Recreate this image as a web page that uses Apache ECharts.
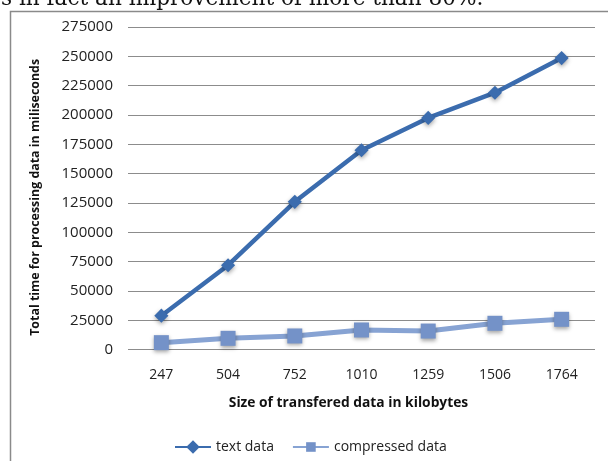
<!DOCTYPE html>
<html>
<head>
<meta charset="utf-8">
<script src="https://cdn.jsdelivr.net/npm/echarts@6/dist/echarts.min.js"></script>
<style>html,body{margin:0;padding:0;background:#fff;}#c{width:608px;height:461px;}</style>
</head>
<body>
<div id="c"></div>
<script>
var categories = ['247', '504', '752', '1010', '1259', '1506', '1764'];
var textData = [29000, 72000, 126000, 170000, 197500, 219000, 248500];
var compressedData = [6000, 9700, 11700, 16800, 15900, 22500, 25900];
var seriesNames = ['text data', 'compressed data'];
var xTitle = 'Size of transfered data in kilobytes';
var yTitle = 'Total time for processing data in miliseconds';
var topText = 's in fact an improvement of more than 80%.';

var chart = echarts.init(document.getElementById('c'));
var font = '"Open Sans", sans-serif';
chart.setOption({
  animation: false,
  backgroundColor: '#fff',
  graphic: [
    { type: 'rect', left: 8, top: 9, shape: { width: 700, height: 500 }, style: { fill: 'none', stroke: '#8a8a8a', lineWidth: 1.5 }, silent: true },
    { type: 'text', silent: true, style: { x: 1, y: 10, verticalAlign: 'bottom', text: topText, font: '21.6px "DejaVu Serif", serif', fill: '#111' } }
  ],
  grid: { left: 128, right: 13, top: 27, bottom: 111.3 },
  legend: {
    data: seriesNames, left: 169, top: 435, itemWidth: 36, itemHeight: 12, itemGap: 18,
    textStyle: { fontFamily: font, fontSize: 14, color: '#222' }
  },
  xAxis: {
    type: 'category', data: categories, boundaryGap: true,
    axisLine: { show: false }, axisTick: { show: false },
    axisLabel: { fontFamily: font, fontSize: 14, color: '#222', margin: 18 },
    name: xTitle, nameLocation: 'middle', nameGap: 46,
    nameTextStyle: { fontFamily: font, fontSize: 13.8, fontWeight: 'bold', color: '#111', padding: [0, 26, 0, 0] }
  },
  yAxis: {
    type: 'value', min: 0, max: 275000, interval: 25000,
    axisLine: { show: false }, axisTick: { show: false },
    splitLine: { lineStyle: { color: '#8c8c8c', width: 1 } },
    axisLabel: { fontFamily: font, fontSize: 15, color: '#222', margin: 15, formatter: function (v) { return String(v); } },
    name: yTitle, nameLocation: 'middle', nameGap: 87, nameRotate: 90,
    nameTextStyle: { fontFamily: font, fontSize: 12.4, fontWeight: 'bold', color: '#111', padding: [0, 18, 0, 0] }
  },
  series: [
    {
      name: seriesNames[0], type: 'line', data: textData,
      symbol: 'rect', symbolSize: 10, symbolRotate: 45,
      lineStyle: { color: '#3b6cae', width: 4.5 },
      itemStyle: { color: '#3b6cae', shadowColor: 'rgba(0,0,0,0.35)', shadowBlur: 4, shadowOffsetY: 2 },
      z: 3
    },
    {
      name: seriesNames[1], type: 'line', data: compressedData,
      symbol: 'rect', symbolSize: 15,
      lineStyle: { color: '#87a3d3', width: 5 },
      itemStyle: { color: '#7492c8', shadowColor: 'rgba(0,0,0,0.35)', shadowBlur: 4, shadowOffsetY: 2 },
      z: 2
    }
  ]
});
</script>
</body>
</html>
